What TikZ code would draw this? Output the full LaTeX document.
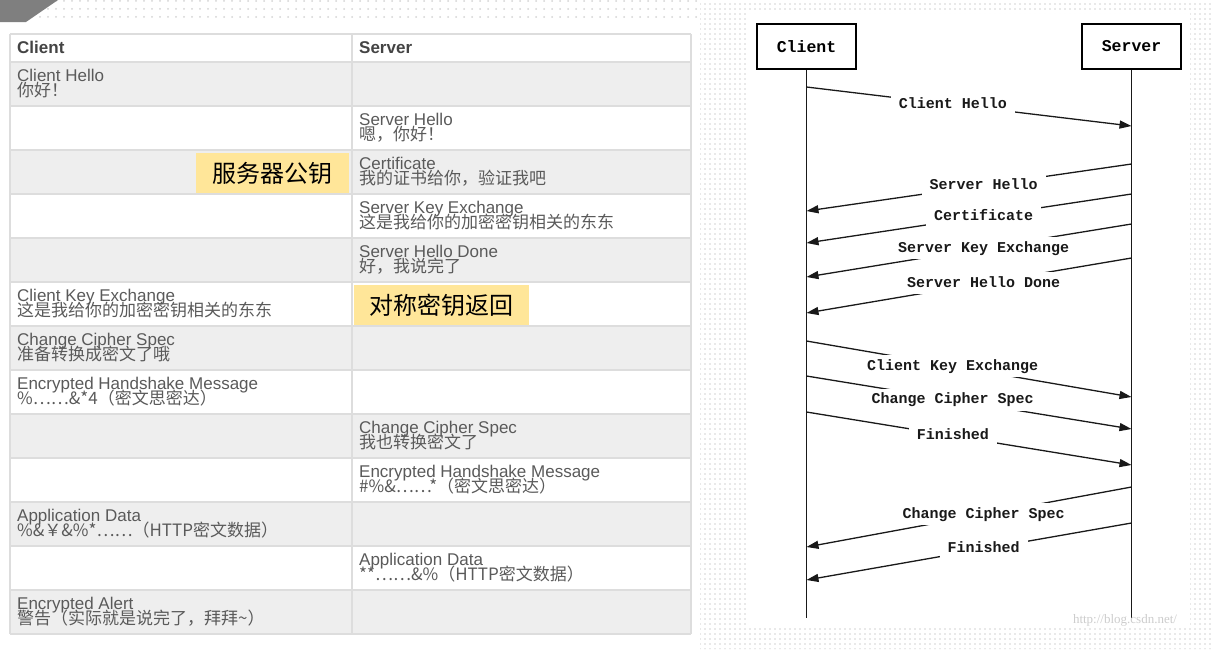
\documentclass[tikz,border=0pt]{standalone}
\usepackage{fontspec}
\setmainfont{Liberation Sans}
\newfontfamily\cjk{Noto Sans CJK SC}
\newfontfamily\monof{Liberation Mono}
\newfontfamily\serifw{Liberation Serif}
\usetikzlibrary{arrows.meta,patterns.meta}
\definecolor{rowgray}{HTML}{EEEEEE}
\definecolor{gridgray}{HTML}{DDDDDD}
\definecolor{txtgray}{HTML}{5A5A5A}
\definecolor{hdrgray}{HTML}{444444}
\definecolor{hlyellow}{HTML}{FFE699}
\definecolor{dotgray}{HTML}{D4D4D4}
\definecolor{cornergray}{HTML}{7F7F7F}
\definecolor{wmgray}{HTML}{CDCDCD}
\newcommand\celltext[5]{%
  \node[entext] (#1-en) at (#2,#3+19.5) {#4};
  \node[zhtext] (#1-zh) at (#2,#3+34) {#5};
}
\tikzset{
  entext/.style={anchor=base west, inner sep=0pt, text=txtgray, font=\fontsize{17}{17}\selectfont},
  zhtext/.style={anchor=base west, inner sep=0pt, text=txtgray, font=\cjk\fontsize{17}{17}\selectfont},
  hdr/.style={anchor=base west, inner sep=0pt, text=hdrgray, font=\bfseries\fontsize{17}{17}\selectfont},
  hl/.style={fill=hlyellow, text=black, inner sep=0pt, minimum height=40pt, font=\cjk\fontsize{24}{24}\selectfont},
  actor/.style={draw=black, line width=1.5pt, fill=white, minimum width=99pt, minimum height=45pt, inner sep=0pt, font=\monof\bfseries\fontsize{16.5}{16.5}\selectfont},
  life/.style={line width=1.4pt, draw=black!90},
  msg/.style={line width=1.3pt, draw=black!90, -{Triangle[length=12pt,width=8pt]}},
  lbl/.style={fill=white, inner xsep=8pt, inner ysep=4pt, text height=11pt, text depth=3pt, text=black!90, font=\monof\bfseries\fontsize{15}{15}\selectfont},
  grid/.style={draw=gridgray, line width=1.5pt}
}
\begin{document}
\begin{tikzpicture}[x=1pt,y=-1pt]
\useasboundingbox (0,0) rectangle (1212,649);
\fill[white] (0,0) rectangle (1212,649);
% dotted decorations
\fill[pattern={Dots[distance=8pt,radius=1pt]}, pattern color=dotgray] (58,0) -- (700,0) -- (700,22) -- (26,22) -- cycle;
\fill[pattern={Dots[distance=5pt,radius=0.8pt]}, pattern color=dotgray, even odd rule] (700,0) rectangle (1212,649) (748,13) rectangle (1190,628);
\fill[cornergray] (0,0) -- (58,0) -- (26,22) -- (0,22) -- cycle;
% table background
\foreach \t in {62,150,238,326,414,502,590} {
  \fill[rowgray] (10,\t) rectangle (691,\t+44);
}
\foreach \t in {34,62,106,150,194,238,282,326,370,414,458,502,546,590,634} {
  \draw[grid] (10,\t) -- (691,\t);
}
\draw[grid] (10,34) -- (10,634);
\draw[grid] (352,34) -- (352,634);
\draw[grid] (691,34) -- (691,634);
% header
\node[hdr] (hclient) at (17,53) {Client};
\node[hdr] (hserver) at (359,53) {Server};
% cells
\celltext{c1}{17}{62}{Client Hello}{你好！}
\celltext{s2}{359}{106}{Server Hello}{嗯，你好！}
\celltext{s3}{359}{150}{Certificate}{我的证书给你，验证我吧}
\celltext{s4}{359}{194}{Server Key Exchange}{这是我给你的加密密钥相关的东东}
\celltext{s5}{359}{238}{Server Hello Done}{好，我说完了}
\celltext{c6}{17}{282}{Client Key Exchange}{这是我给你的加密密钥相关的东东}
\celltext{c7}{17}{326}{Change Cipher Spec}{准备转换成密文了哦}
\celltext{c8}{17}{370}{Encrypted Handshake Message}{\%……\&*4（密文思密达）}
\celltext{s9}{359}{414}{Change Cipher Spec}{我也转换密文了}
\celltext{s10}{359}{458}{Encrypted Handshake Message}{\#\%\&……*（密文思密达）}
\celltext{c11}{17}{502}{Application Data}{\%\&￥\&\%*……（HTTP密文数据）}
\celltext{s12}{359}{546}{Application Data}{**……\&\%（HTTP密文数据）}
\celltext{c13}{17}{590}{Encrypted Alert}{警告（实际就是说完了，拜拜\textasciitilde）}
% highlights
\node[hl, minimum width=153pt] (pubkey) at (272.5,173) {服务器公钥\hspace{18pt}};
\node[hl, minimum width=175pt] (symkey) at (441.5,305) {对称密钥返回\hspace{9pt}};
% sequence diagram
\node[actor] (client) at (806.5,46.5) {Client};
\node[actor] (server) at (1131.5,46.5) {Server};
\coordinate (cend) at (806.5,618);
\coordinate (send) at (1131.5,618);
\draw[life] (client.south) -- (cend);
\draw[life] (server.south) -- (send);
% messages
\coordinate (m1a) at (806.5,87);   \coordinate (m1b) at (1131.5,126);
\coordinate (m2a) at (1131.5,164); \coordinate (m2b) at (806.5,211);
\coordinate (m3a) at (1131.5,194); \coordinate (m3b) at (806.5,243);
\coordinate (m4a) at (1131.5,224); \coordinate (m4b) at (806.5,277);
\coordinate (m5a) at (1131.5,258); \coordinate (m5b) at (806.5,313);
\coordinate (m6a) at (806.5,341);  \coordinate (m6b) at (1131.5,397);
\coordinate (m7a) at (806.5,376);  \coordinate (m7b) at (1131.5,429);
\coordinate (m8a) at (806.5,412);  \coordinate (m8b) at (1131.5,465);
\coordinate (m9a) at (1131.5,487); \coordinate (m9b) at (806.5,547);
\coordinate (m10a) at (1131.5,523); \coordinate (m10b) at (806.5,580);
\draw[msg] (m1a) -- node[lbl, pos=0.45] (l1) {Client Hello} (m1b);
\draw[msg] (m2a) -- node[lbl, pos=0.455] (l2) {Server Hello} (m2b);
\draw[msg] (m3a) -- node[lbl, pos=0.455] (l3) {Certificate} (m3b);
\draw[msg] (m4a) -- node[lbl, pos=0.455] (l4) {Server Key Exchange} (m4b);
\draw[msg] (m5a) -- node[lbl, pos=0.455] (l5) {Server Hello Done} (m5b);
\draw[msg] (m6a) -- node[lbl, pos=0.45] (l6) {Client Key Exchange} (m6b);
\draw[msg] (m7a) -- node[lbl, pos=0.45] (l7) {Change Cipher Spec} (m7b);
\draw[msg] (m8a) -- node[lbl, pos=0.45] (l8) {Finished} (m8b);
\draw[msg] (m9a) -- node[lbl, pos=0.455] (l9) {Change Cipher Spec} (m9b);
\draw[msg] (m10a) -- node[lbl, pos=0.455] (l10) {Finished} (m10b);
% watermark
\node[text=wmgray, inner sep=0pt, font=\serifw\fontsize{13}{13}\selectfont] (wm) at (1125,620) {http://blog.csdn.net/};
\end{tikzpicture}
\end{document}
